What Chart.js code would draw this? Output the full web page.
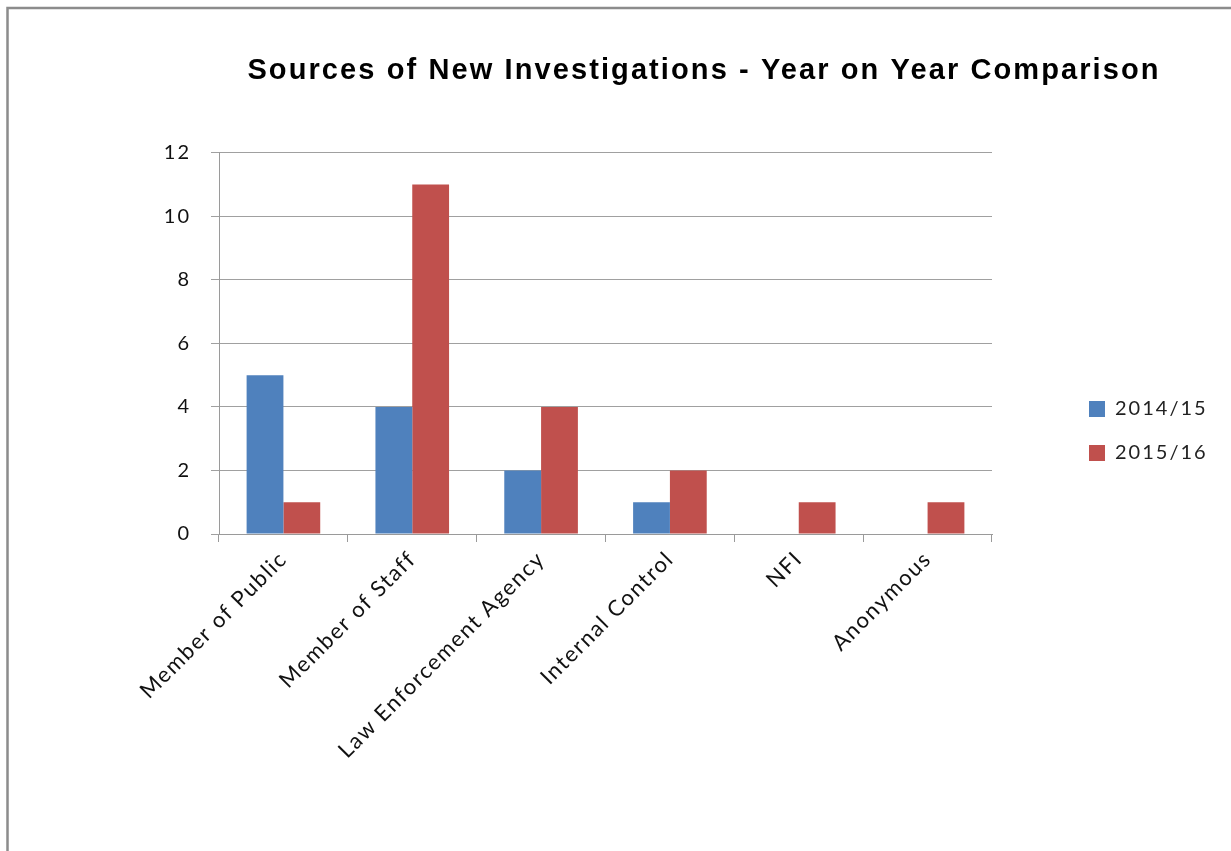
<!DOCTYPE html>
<html>
<head>
<meta charset="utf-8">
<script src="https://cdn.jsdelivr.net/npm/chart.js@4/dist/chart.umd.min.js"></script>
<style>
html,body{margin:0;padding:0;background:#fff;}
canvas{display:block;}
</style>
</head>
<body>
<canvas id="c" width="1231" height="851"></canvas>
<script>
const categories = ["Member of Public","Member of Staff","Law Enforcement Agency","Internal Control","NFI","Anonymous"];
const series2014 = [5,4,2,1,0,0];
const series2015 = [1,11,4,2,1,1];
const seriesNames = ["2014/15","2015/16"];
const titleText = "Sources of New Investigations - Year on Year Comparison";

const TEXT_SPACING = '2px';
const XLABEL_SPACING = '1.6px';
const TITLE_SPACING = '2.1px';

function withSpacing(chart, obj, spacing){
  if(!obj || obj._patched) return;
  const d = obj.draw.bind(obj);
  obj.draw = function(...args){
    const ctx = chart.ctx;
    const prev = ctx.letterSpacing;
    ctx.letterSpacing = spacing;
    d(...args);
    ctx.letterSpacing = prev;
  };
  obj._patched = true;
}

const frame = {
  id:'frame',
  beforeDraw(chart){
    const ctx = chart.ctx;
    ctx.save();
    ctx.fillStyle='#fff';
    ctx.fillRect(0,0,chart.width,chart.height);
    ctx.strokeStyle='#8c8c8c';
    ctx.lineWidth=2.5;
    ctx.beginPath();
    ctx.moveTo(7.5,chart.height);
    ctx.lineTo(7.5,8);
    ctx.lineTo(chart.width,8);
    ctx.stroke();
    ctx.restore();
    ctx.letterSpacing = TEXT_SPACING;
  }
};
const placer = {
  id:'placer',
  beforeLayout(chart){
    chart.ctx.letterSpacing = TEXT_SPACING;
    const lg = chart.legend;
    if(lg && !lg._fitPatched){
      const f = lg.fit.bind(lg);
      lg.fit = function(){ f(); this.width = 239; };
      lg._fitPatched = true;
    }
    withSpacing(chart, chart.titleBlock, TITLE_SPACING);
  },
  afterLayout(chart){
    const lg = chart.legend;
    if(lg){ const w = lg.right-lg.left; lg.left = 1065; lg.right = 1065 + w; const h = lg.bottom-lg.top; lg.top = 375; lg.bottom = 375 + h; }
    const t = chart.titleBlock;
    if(t){ t.left = 204; t.right = 1204; }
  },
  beforeDatasetsDraw(chart){ chart.ctx.letterSpacing = TEXT_SPACING; }
};

const xSpacing = {
  id:'xSpacing',
  beforeInit(chart){}
};

new Chart(document.getElementById('c'),{
  type:'bar',
  data:{
    labels:categories,
    datasets:[
      {label:seriesNames[0],data:series2014,backgroundColor:'#4F81BD',borderWidth:0},
      {label:seriesNames[1],data:series2015,backgroundColor:'#C0504D',borderWidth:0}
    ]
  },
  plugins:[frame,placer],
  options:{
    responsive:false,
    animation:false,
    layout:{padding:{left:159,right:0,top:10,bottom:87}},
    datasets:{bar:{categoryPercentage:2/3.5,barPercentage:1}},
    plugins:{
      title:{display:true,text:titleText,color:'#000',
        font:{family:'"Liberation Sans", Arial, sans-serif',size:29,weight:'bold'},
        padding:{top:44,bottom:64}},
      legend:{position:'right',align:'start',
        labels:{boxWidth:16,boxHeight:16,padding:24,color:'#222',
          font:{family:'Lato, "Open Sans", sans-serif',size:20}}},
      tooltip:{enabled:false}
    },
    scales:{
      x:{
        afterFit(s){ s.height = 230; },
        beforeUpdate(s){ withSpacing(s.chart, s, XLABEL_SPACING); },
        grid:{display:true,drawOnChartArea:false,drawTicks:true,tickLength:8,color:'#9a9a9a',offset:true},
        border:{display:true,color:'#9a9a9a'},
        ticks:{minRotation:45,maxRotation:45,autoSkip:false,padding:4,color:'#111',
          font:{family:'Lato, "Open Sans", sans-serif',size:22}}
      },
      y:{
        min:0,max:12,
        afterFit(s){ s.width = 60; },
        grid:{color:'#a0a0a0',tickLength:8,drawTicks:true},
        border:{display:true,color:'#9a9a9a'},
        ticks:{stepSize:2,padding:20,color:'#111',
          font:{family:'Lato, "Open Sans", sans-serif',size:20}}
      }
    }
  }
});
</script>
</body>
</html>
